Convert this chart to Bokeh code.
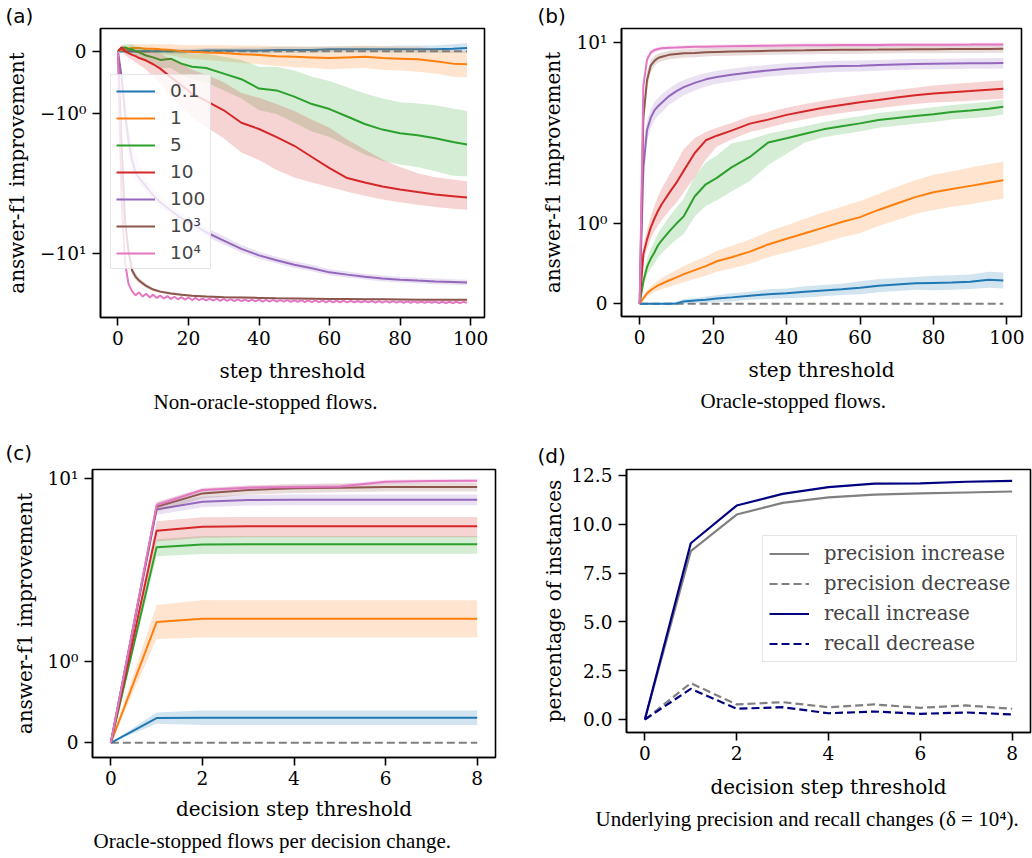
import numpy as np
from bokeh.plotting import figure
from bokeh.models import (Range1d, FixedTicker, Legend, LegendItem, Title,
                          PrintfTickFormatter)
from bokeh.layouts import row, column
from bokeh.embed import file_html
from bokeh.resources import INLINE

# ---------------------------------------------------------------- data
DELTA_LABELS = ["0.1", "1", "5", "10", "100", "10³", "10⁴"]
COLORS = ["#1f77b4", "#ff7f0e", "#2ca02c", "#d62728", "#9467bd", "#8c564b", "#e377c2"]

STEPS = [0, 1, 2, 3, 4, 5, 6, 8, 10, 12, 15, 18, 21, 25, 30, 35, 40, 45, 50,
         55, 60, 65, 70, 75, 80, 85, 90, 95, 99]

# (a) non-oracle-stopped flows: mean and spread per delta
A_D01 = [0, 0, 0, 0, 0, 0, 0, 0, 0, 0, 0, 0, 0, 0.01, 0.01, 0.01, 0.01, 0.02, 0.02,
         0.02, 0.03, 0.03, 0.03, 0.03, 0.03, 0.03, 0.03, 0.04, 0.05]
A_D01_SD = [0, 0.02, 0.02, 0.03, 0.03, 0.03, 0.03, 0.03, 0.03, 0.03, 0.04, 0.04, 0.04,
            0.04, 0.04, 0.05, 0.05, 0.05, 0.05, 0.05, 0.05, 0.05, 0.05, 0.05, 0.06,
            0.06, 0.06, 0.07, 0.08]
A_D1 = [0, 0.02, 0.03, 0.04, 0.05, 0.05, 0.05, 0.04, 0.04, 0.03, 0.02, 0.0, -0.01,
        -0.02, -0.03, -0.05, -0.06, -0.08, -0.09, -0.1, -0.11, -0.1, -0.09, -0.11,
        -0.12, -0.13, -0.16, -0.2, -0.21]
A_D1_SD = [0, 0.03, 0.05, 0.05, 0.06, 0.06, 0.06, 0.07, 0.07, 0.08, 0.09, 0.1, 0.11,
           0.12, 0.13, 0.14, 0.15, 0.16, 0.17, 0.17, 0.18, 0.18, 0.18, 0.19, 0.19,
           0.2, 0.2, 0.21, 0.21]
A_D5 = [0, 0.05, 0.06, 0.04, 0.03, 0.0, -0.02, -0.07, -0.1, -0.14, -0.12, -0.2, -0.25,
        -0.27, -0.36, -0.45, -0.6, -0.63, -0.73, -0.85, -0.93, -1.05, -1.17, -1.26,
        -1.32, -1.35, -1.4, -1.46, -1.5]
A_D5_SD = [0, 0.04, 0.06, 0.07, 0.08, 0.08, 0.09, 0.1, 0.12, 0.13, 0.15, 0.18, 0.2,
           0.23, 0.27, 0.31, 0.35, 0.38, 0.42, 0.44, 0.45, 0.47, 0.49, 0.5, 0.5, 0.51,
           0.53, 0.54, 0.54]
A_D10 = [0, 0.06, 0.0, -0.03, -0.06, -0.08, -0.11, -0.15, -0.21, -0.28, -0.42, -0.55,
         -0.68, -0.8, -0.95, -1.15, -1.25, -1.38, -1.52, -1.7, -1.88, -2.1, -2.3, -2.5,
         -2.66, -2.8, -2.94, -3.05, -3.14]
A_D10_SD = [0, 0.04, 0.06, 0.07, 0.08, 0.1, 0.11, 0.15, 0.2, 0.24, 0.3, 0.35, 0.38,
            0.42, 0.45, 0.48, 0.5, 0.53, 0.56, 0.6, 0.65, 0.68, 0.72, 0.76, 0.8, 0.84,
            0.87, 0.89, 0.9]
A_D100 = [0, -0.4, -1.0, -1.45, -1.75, -1.95, -2.1, -2.5, -3.0, -3.45, -4.1, -4.8, -5.4,
          -6.4, -7.6, -9.0, -10.3, -11.4, -12.5, -13.4, -14.6, -15.3, -16.0, -16.6,
          -17.0, -17.3, -17.6, -17.8, -18.0]
A_D100_SD = [0, 0.1, 0.2, 0.25, 0.3, 0.3, 0.3, 0.35, 0.4, 0.4, 0.45, 0.5, 0.55, 0.6,
             0.65, 0.7, 0.75, 0.8, 0.85, 0.9, 0.9, 0.95, 0.95, 1.0, 1.0, 1.0, 1.0, 1.0,
             1.0]
A_D1E3 = [0, -1.5, -5.0, -9.5, -14.0, -16.0, -17.3, -19.3, -20.8, -21.7, -22.5, -23.1,
          -23.6, -24.0, -24.3, -24.5, -24.7, -24.9, -25.0, -25.1, -25.2, -25.3, -25.4,
          -25.4, -25.5, -25.6, -25.6, -25.7, -25.7]
A_D1E3_SD = [0, 0.3, 0.8, 1.2, 1.2, 1.0, 0.9, 0.8, 0.7, 0.6, 0.6, 0.5, 0.5, 0.5, 0.5,
             0.5, 0.5, 0.5, 0.5, 0.5, 0.5, 0.5, 0.5, 0.5, 0.5, 0.5, 0.5, 0.5, 0.5]
# delta = 1e4 zig-zags step by step, so it is read at every step 0..99
A_D1E4_STEPS = list(range(100))
A_D1E4 = [0, -3.0, -12.0, -18.5, -21.5, -23.4, -22.0, -24.0, -22.7, -24.4,
          -23.1, -24.7, -23.5, -25.0, -23.8, -25.2, -24.1, -25.4, -24.3, -25.6,
          -24.5, -25.8, -24.7, -25.9, -24.9, -26.0, -25.0, -26.1, -25.1, -26.2,
          -25.2, -26.3, -25.3, -26.4, -25.4, -26.4, -25.5, -26.5, -25.6, -26.5,
          -25.6, -26.6, -25.7, -26.6, -25.7, -26.7, -25.8, -26.7, -25.8, -26.8,
          -25.9, -26.8, -25.9, -26.9, -26.0, -26.9, -26.0, -26.9, -26.1, -27.0,
          -26.1, -27.0, -26.2, -27.0, -26.2, -27.1, -26.2, -27.1, -26.3, -27.1,
          -26.3, -27.1, -26.3, -27.2, -26.4, -27.2, -26.4, -27.2, -26.4, -27.2,
          -26.5, -27.3, -26.5, -27.3, -26.5, -27.3, -26.6, -27.3, -26.6, -27.3,
          -26.6, -27.4, -26.7, -27.4, -26.7, -27.4, -26.7, -27.4, -26.8, -27.3]
A_D1E4_SD = 0.4

# (b) oracle-stopped flows
B_D01 = [0, 0, 0, 0, 0, 0, 0, 0, 0.005, 0.03, 0.04, 0.05, 0.065, 0.08, 0.1, 0.12, 0.13,
         0.15, 0.165, 0.18, 0.2, 0.225, 0.24, 0.255, 0.26, 0.265, 0.275, 0.3, 0.29]
B_D01_SD = [0, 0.01, 0.01, 0.01, 0.01, 0.01, 0.01, 0.02, 0.02, 0.03, 0.03, 0.04, 0.04,
            0.05, 0.05, 0.06, 0.06, 0.07, 0.07, 0.07, 0.08, 0.08, 0.08, 0.08, 0.09,
            0.09, 0.09, 0.1, 0.1]
B_D1 = [0, 0.07, 0.13, 0.17, 0.2, 0.23, 0.25, 0.29, 0.33, 0.37, 0.42, 0.47, 0.53, 0.58,
        0.65, 0.74, 0.81, 0.88, 0.95, 1.02, 1.08, 1.17, 1.25, 1.33, 1.39, 1.43, 1.47,
        1.51, 1.54]
B_D1_SD = [0, 0.02, 0.04, 0.05, 0.05, 0.06, 0.07, 0.08, 0.09, 0.1, 0.11, 0.12, 0.13,
           0.14, 0.15, 0.16, 0.17, 0.18, 0.19, 0.19, 0.2, 0.2, 0.21, 0.21, 0.22, 0.22,
           0.23, 0.23, 0.23]
B_D5 = [0, 0.28, 0.46, 0.56, 0.64, 0.73, 0.79, 0.9, 1.0, 1.09, 1.34, 1.49, 1.57, 1.7,
        1.83, 2.03, 2.17, 2.33, 2.5, 2.63, 2.75, 2.9, 3.0, 3.09, 3.18, 3.3, 3.38, 3.47,
        3.59]
B_D5_SD = [0, 0.06, 0.1, 0.12, 0.14, 0.15, 0.16, 0.18, 0.2, 0.22, 0.25, 0.27, 0.28, 0.3,
           0.3, 0.3, 0.3, 0.3, 0.3, 0.32, 0.33, 0.34, 0.35, 0.36, 0.37, 0.38, 0.4, 0.41,
           0.42]
B_D10 = [0, 0.62, 0.8, 0.95, 1.06, 1.16, 1.24, 1.38, 1.51, 1.66, 1.88, 2.1, 2.26, 2.45,
         2.74, 2.92, 3.15, 3.34, 3.53, 3.69, 3.85, 4.0, 4.16, 4.3, 4.43, 4.52, 4.6, 4.7,
         4.78]
B_D10_SD = [0, 0.1, 0.12, 0.14, 0.16, 0.18, 0.2, 0.22, 0.25, 0.27, 0.3, 0.3, 0.3, 0.32,
            0.34, 0.36, 0.38, 0.4, 0.42, 0.45, 0.48, 0.5, 0.53, 0.56, 0.6, 0.63, 0.66,
            0.68, 0.7]
B_D100 = [0, 1.7, 2.48, 3.0, 3.38, 3.62, 3.82, 4.25, 4.6, 4.9, 5.25, 5.55, 5.77, 5.97,
          6.2, 6.4, 6.56, 6.68, 6.8, 6.86, 6.9, 6.97, 7.03, 7.09, 7.12, 7.15, 7.17, 7.18,
          7.19]
B_D100_SD = [0, 0.3, 0.4, 0.45, 0.5, 0.5, 0.55, 0.55, 0.6, 0.6, 0.6, 0.6, 0.6, 0.6, 0.6,
             0.6, 0.6, 0.6, 0.6, 0.6, 0.6, 0.6, 0.6, 0.6, 0.6, 0.6, 0.6, 0.6, 0.6]
B_D1E3 = [0, 3.0, 5.5, 6.9, 7.45, 7.8, 7.95, 8.2, 8.3, 8.4, 8.45, 8.55, 8.6, 8.65, 8.7,
          8.75, 8.8, 8.82, 8.85, 8.88, 8.9, 8.92, 8.95, 8.97, 8.98, 9.0, 9.01, 9.02, 9.03]
B_D1E3_SD = [0, 0.5, 0.8, 0.7, 0.6, 0.55, 0.55, 0.55, 0.55, 0.55, 0.55, 0.55, 0.55, 0.55,
             0.55, 0.55, 0.55, 0.55, 0.55, 0.55, 0.55, 0.55, 0.55, 0.55, 0.55, 0.55, 0.55,
             0.55, 0.55]
B_D1E4 = [0, 5.0, 7.6, 8.5, 8.85, 9.0, 9.1, 9.18, 9.22, 9.27, 9.32, 9.35, 9.38, 9.42,
          9.46, 9.5, 9.53, 9.55, 9.57, 9.59, 9.6, 9.61, 9.62, 9.63, 9.64, 9.65, 9.66,
          9.68, 9.69]
B_D1E4_SD = [0, 0.5, 0.5, 0.4, 0.3, 0.3, 0.3, 0.3, 0.3, 0.3, 0.3, 0.3, 0.3, 0.3, 0.3,
             0.3, 0.3, 0.3, 0.3, 0.3, 0.3, 0.3, 0.3, 0.3, 0.3, 0.3, 0.3, 0.3, 0.3]

# (c) oracle-stopped flows per decision change
DECISION_STEPS = [0, 1, 2, 3, 4, 5, 6, 7, 8]
C_D01 = [0, 0.305, 0.31, 0.31, 0.31, 0.31, 0.31, 0.31, 0.31]
C_D01_SD = [0, 0.07, 0.09, 0.09, 0.09, 0.09, 0.09, 0.09, 0.09]
C_D1 = [0, 1.49, 1.53, 1.53, 1.53, 1.53, 1.53, 1.53, 1.53]
C_D1_SD = [0, 0.21, 0.23, 0.23, 0.23, 0.23, 0.23, 0.23, 0.23]
C_D5 = [0, 3.4, 3.55, 3.56, 3.56, 3.56, 3.56, 3.56, 3.56]
C_D5_SD = [0, 0.45, 0.5, 0.5, 0.5, 0.5, 0.5, 0.5, 0.5]
C_D10 = [0, 4.41, 4.69, 4.72, 4.72, 4.72, 4.72, 4.72, 4.72]
C_D10_SD = [0, 0.7, 0.75, 0.75, 0.75, 0.75, 0.75, 0.75, 0.75]
C_D100 = [0, 6.17, 6.97, 7.15, 7.19, 7.19, 7.19, 7.19, 7.19]
C_D100_SD = [0, 0.5, 0.6, 0.6, 0.6, 0.6, 0.6, 0.6, 0.6]
C_D1E3 = [0, 6.44, 7.94, 8.38, 8.6, 8.69, 8.79, 8.79, 8.79]
C_D1E3_SD = [0, 0.5, 0.6, 0.6, 0.6, 0.6, 0.6, 0.6, 0.6]
C_D1E4 = [0, 6.61, 8.38, 8.69, 8.79, 8.87, 9.56, 9.66, 9.71]
C_D1E4_SD = [0, 0.3, 0.3, 0.3, 0.3, 0.3, 0.3, 0.3, 0.3]

# (d) underlying precision / recall changes (percentage of instances)
PRECISION_INCREASE = [0, 8.62, 10.5, 11.1, 11.38, 11.52, 11.58, 11.63, 11.68]
PRECISION_DECREASE = [0, 1.86, 0.77, 0.89, 0.63, 0.77, 0.6, 0.72, 0.55]
RECALL_INCREASE = [0, 9.03, 10.96, 11.56, 11.9, 12.08, 12.1, 12.18, 12.22]
RECALL_DECREASE = [0, 1.57, 0.55, 0.63, 0.32, 0.41, 0.29, 0.36, 0.26]

A_SERIES = [(STEPS, A_D01, A_D01_SD), (STEPS, A_D1, A_D1_SD), (STEPS, A_D5, A_D5_SD),
            (STEPS, A_D10, A_D10_SD), (STEPS, A_D100, A_D100_SD),
            (STEPS, A_D1E3, A_D1E3_SD), (A_D1E4_STEPS, A_D1E4, A_D1E4_SD)]
B_SERIES = [(STEPS, B_D01, B_D01_SD), (STEPS, B_D1, B_D1_SD), (STEPS, B_D5, B_D5_SD),
            (STEPS, B_D10, B_D10_SD), (STEPS, B_D100, B_D100_SD),
            (STEPS, B_D1E3, B_D1E3_SD), (STEPS, B_D1E4, B_D1E4_SD)]
C_SERIES = [(DECISION_STEPS, C_D01, C_D01_SD), (DECISION_STEPS, C_D1, C_D1_SD),
            (DECISION_STEPS, C_D5, C_D5_SD), (DECISION_STEPS, C_D10, C_D10_SD),
            (DECISION_STEPS, C_D100, C_D100_SD), (DECISION_STEPS, C_D1E3, C_D1E3_SD),
            (DECISION_STEPS, C_D1E4, C_D1E4_SD)]

# ---------------------------------------------------------------- symlog scale
LINTHRESH = 2.0
LINSCALE_ADJ = 1.0 / (1.0 - 1.0 / 10.0)


def symlog(v):
    v = np.asarray(v, dtype=float)
    a = np.abs(v)
    out = v * LINSCALE_ADJ
    big = a > LINTHRESH
    out[big] = np.sign(v[big]) * LINTHRESH * (LINSCALE_ADJ + np.log10(a[big] / LINTHRESH))
    return out


SERIF = "DejaVu Serif"
SANS = "DejaVu Sans"
CAPTION_FONT = "Liberation Serif"


def base_fig(fw, fh, bl, br, bt, bb, xr, yr, ylab_standoff, xlab_standoff):
    p = figure(frame_width=fw, frame_height=fh, x_range=Range1d(*xr),
               y_range=Range1d(*yr), min_border_left=bl, min_border_right=br,
               min_border_top=bt, min_border_bottom=bb, output_backend="svg",
               toolbar_location=None, tools="", title=None)
    p.grid.visible = False
    p.outline_line_color = "black"
    p.outline_line_width = 1.6
    p.outline_line_alpha = 1.0
    p.background_fill_color = "white"
    p.border_fill_color = "white"
    for ax in (p.xaxis[0], p.yaxis[0]):
        ax.axis_line_color = "black"
        ax.axis_line_width = 1.6
        ax.major_tick_line_color = "black"
        ax.major_tick_line_width = 1.6
        ax.major_tick_in = 0
        ax.major_tick_out = 8
        ax.minor_tick_line_color = None
        ax.major_label_text_font = SERIF
        ax.major_label_text_font_size = "18.5px"
        ax.major_label_text_color = "black"
        ax.axis_label_text_font = SERIF
        ax.axis_label_text_font_size = "20px"
        ax.axis_label_text_font_style = "normal"
        ax.axis_label_text_color = "black"
    p.xaxis[0].major_label_standoff = 5
    p.yaxis[0].major_label_standoff = 6
    p.xaxis[0].axis_label_standoff = xlab_standoff
    p.yaxis[0].axis_label_standoff = ylab_standoff
    return p


def add_panel_tag(p, text, offset, standoff, valign):
    p.add_layout(Title(text=text, align="left", offset=offset, standoff=standoff,
                       vertical_align=valign, text_font=SANS, text_font_size="20px",
                       text_font_style="normal", text_color="black"), "above")


def add_caption(p, text, offset, standoff):
    p.add_layout(Title(text=text, align="left", offset=offset, standoff=standoff,
                       text_font=CAPTION_FONT, text_font_size="21px",
                       text_font_style="normal", text_color="black"), "below")


def symlog_panel(p, series, xmax, yticks, ylabels):
    p.line([0, xmax], symlog([0, 0]), line_color="#808080", line_width=2,
           line_dash="8 4")
    lines = []
    for (xs, mean, sd), col in zip(series, COLORS):
        m = np.asarray(mean, dtype=float)
        s = np.asarray(sd, dtype=float) if np.ndim(sd) else np.full(len(m), sd)
        p.varea(x=xs, y1=symlog(m - s), y2=symlog(m + s), fill_color=col,
                fill_alpha=0.2)
        lines.append(p.line(xs, symlog(m), line_color=col, line_width=2))
    tick_pos = [round(float(t), 6) for t in symlog(yticks)]
    p.yaxis[0].ticker = FixedTicker(ticks=tick_pos)
    p.yaxis[0].major_label_overrides = dict(zip(tick_pos, ylabels))
    p.yaxis[0].axis_label = "answer-f1 improvement"
    return lines


# ---------------------------------------------------------------- (a)
pa = base_fig(384, 289, 100, 36, 28, 121, (-4.95, 103.95), (-4.755, 0.405), 8, 11)
lines_a = symlog_panel(pa, A_SERIES, 99, [0, -1, -10], ["0", "−10⁰", "−10¹"])
pa.xaxis[0].ticker = FixedTicker(ticks=[0, 20, 40, 60, 80, 100])
pa.xaxis[0].axis_label = "step threshold"
leg_a = Legend(items=[LegendItem(label=l, renderers=[r]) for l, r in zip(DELTA_LABELS, lines_a)],
               location=(10, 48), margin=0, padding=5, spacing=6, glyph_width=39,
               glyph_height=20, label_height=20, label_standoff=15,
               label_text_font=SANS, label_text_font_size="18.5px",
               label_text_baseline="middle", border_line_color="#cccccc",
               border_line_width=1, background_fill_color="white",
               background_fill_alpha=0.8)
pa.add_layout(leg_a)
add_panel_tag(pa, "(a)", -95, 2, "bottom")
add_caption(pa, "Non-oracle-stopped flows.", 53, 4)

# ---------------------------------------------------------------- (b)
pb = base_fig(400, 288, 101, 11, 28, 121, (-4.95, 103.95), (-0.176, 3.813), 9, 11)
symlog_panel(pb, B_SERIES, 99, [0, 1, 10], ["0", "10⁰", "10¹"])
pb.xaxis[0].ticker = FixedTicker(ticks=[0, 20, 40, 60, 80, 100])
pb.xaxis[0].axis_label = "step threshold"
add_panel_tag(pb, "(b)", -84, 2, "bottom")
add_caption(pb, "Oracle-stopped flows.", 79, 4)

# ---------------------------------------------------------------- (c)
pc = base_fig(403, 288, 92, 25, 31, 101, (-0.4, 8.4), (-0.2016, 3.7477), 8, 9)
symlog_panel(pc, C_SERIES, 8, [0, 1, 10], ["0", "10⁰", "10¹"])
pc.xaxis[0].ticker = FixedTicker(ticks=[0, 2, 4, 6, 8])
pc.xaxis[0].axis_label = "decision step threshold"
add_panel_tag(pc, "(c)", -87, 5, "top")
add_caption(pc, "Oracle-stopped flows per decision change.", 1, 7)

# ---------------------------------------------------------------- (d)
pd_ = base_fig(404, 263, 106, 2, 31, 101, (-0.4, 8.4), (-0.666, 12.807), 2, 12)
r1 = pd_.line(DECISION_STEPS, PRECISION_INCREASE, line_color="#808080", line_width=2.2)
r2 = pd_.line(DECISION_STEPS, PRECISION_DECREASE, line_color="#808080", line_width=2.2,
              line_dash="8 4")
r3 = pd_.line(DECISION_STEPS, RECALL_INCREASE, line_color="#000080", line_width=2.2)
r4 = pd_.line(DECISION_STEPS, RECALL_DECREASE, line_color="#000080", line_width=2.2,
              line_dash="8 4")
pd_.xaxis[0].ticker = FixedTicker(ticks=[0, 2, 4, 6, 8])
pd_.yaxis[0].ticker = FixedTicker(ticks=[0, 2.5, 5, 7.5, 10, 12.5])
pd_.yaxis[0].formatter = PrintfTickFormatter(format="%.1f")
pd_.xaxis[0].axis_label = "decision step threshold"
pd_.yaxis[0].axis_label = "percentage of instances"
leg_d = Legend(items=[LegendItem(label="precision increase", renderers=[r1]),
                      LegendItem(label="precision decrease", renderers=[r2]),
                      LegendItem(label="recall increase", renderers=[r3]),
                      LegendItem(label="recall decrease", renderers=[r4])],
               location=(136, 70), margin=0, padding=6, spacing=7, glyph_width=40,
               glyph_height=21, label_height=21, label_standoff=15,
               label_text_font=SERIF, label_text_font_size="19.5px",
               label_text_baseline="middle", border_line_color="#cccccc",
               border_line_width=1, background_fill_color="white",
               background_fill_alpha=0.8)
pd_.add_layout(leg_d)
add_panel_tag(pd_, "(d)", -89, 0, "top")
add_caption(pd_, "Underlying precision and recall changes (δ = 10⁴).", -31, 7)

layout = column(row(pa, pb), row(pc, pd_))
open("out.html", "w").write(file_html(layout, INLINE))
